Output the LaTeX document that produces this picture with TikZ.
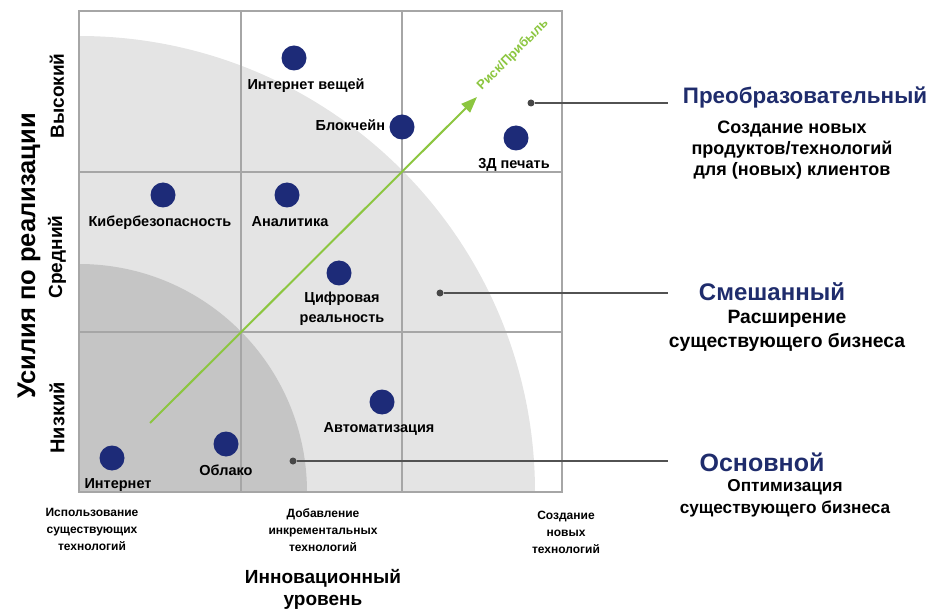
\documentclass[tikz,border=0pt]{standalone}
\usepackage{fontspec}
\setmainfont{Liberation Sans}
\usetikzlibrary{positioning,arrows.meta}

\definecolor{navy}{HTML}{1D2B78}
\definecolor{titleblue}{HTML}{1F2C6C}
\definecolor{leaf}{HTML}{8CC640}
\definecolor{zonelight}{HTML}{E4E4E4}
\definecolor{zonedark}{HTML}{C5C5C5}
\definecolor{gridgray}{HTML}{A6A6A6}

\tikzset{
  tech/.style={circle, fill=navy, minimum size=25pt, inner sep=0pt},
  techname/.style={font=\bfseries\fontsize{14.5}{20}\selectfont, inner sep=0pt,
    text height=10pt, text depth=2.5pt, align=center},
  level/.style={font=\bfseries\fontsize{12}{17}\selectfont, align=center, inner sep=0pt},
  axis/.style={font=\bfseries\fontsize{19}{22}\selectfont, align=center, inner sep=0pt},
  pin/.style={circle, fill=black!72, minimum size=7pt, inner sep=0pt},
  lead/.style={black!68, line width=1.5pt},
  kind/.style={font=\bfseries\fontsize{24}{28}\selectfont, text=titleblue, inner sep=0pt},
  kinddesc/.style={font=\bfseries\fontsize{18}{21}\selectfont, align=center, inner sep=0pt},
  grid line/.style={gridgray, line width=1.5pt}
}

\begin{document}
\begin{tikzpicture}[x=1pt, y=-1pt]
  \useasboundingbox (0,0) rectangle (931,609);

  % shaded zones around the lower left corner
  \begin{scope}
    \clip (79,11) rectangle (562,492);
    \fill[zonelight] (79,492) circle[radius=456];
    \fill[zonedark] (79,492) circle[radius=228];
  \end{scope}

  % 3x3 grid
  \draw[grid line] (79,11) rectangle (562,492);
  \foreach \x in {241,402}
    \draw[grid line] (\x,11) -- (\x,492);
  \foreach \y in {172,332}
    \draw[grid line] (79,\y) -- (562,\y);

  % risk / profit direction
  \coordinate (riskfrom) at (150,423);
  \coordinate (riskto) at (477,97);
  \draw[leaf, line width=2pt, -{Triangle[length=16pt, width=12pt]}] (riskfrom) -- (riskto);
  \node[rotate=45, text=leaf, font=\bfseries\fontsize{13}{15}\selectfont, inner sep=0pt]
    (risk) at (513,55) {Риск/Прибыль};

  % technologies
  \node[tech] (iot) at (294,58) {};
  \node[techname, below=8.5pt of iot, xshift=12pt] (iot-t) {Интернет вещей};
  \node[tech] (chain) at (402,127) {};
  \node[techname, left=4pt of chain] (chain-t) {Блокчейн};
  \node[tech] (print) at (516,138) {};
  \node[techname, below=7.5pt of print, xshift=-2pt] (print-t) {3Д печать};
  \node[tech] (cyber) at (163,195) {};
  \node[techname, below=8.5pt of cyber, xshift=-3pt] (cyber-t) {Кибербезопасность};
  \node[tech] (analytics) at (287,195) {};
  \node[techname, below=8.5pt of analytics, xshift=3pt] (analytics-t) {Аналитика};
  \node[tech] (digital) at (339,273) {};
  \node[techname, below=6.5pt of digital, xshift=3pt, text height=, text depth=] (digital-t) {Цифровая\\реальность};
  \node[tech] (auto) at (382,402) {};
  \node[techname, below=8pt of auto, xshift=-3pt] (auto-t) {Автоматизация};
  \node[tech] (cloud) at (226,444) {};
  \node[techname, below=8.5pt of cloud] (cloud-t) {Облако};
  \node[tech] (web) at (112,458) {};
  \node[techname, below=7.5pt of web, xshift=6pt] (web-t) {Интернет};

  % axes
  \node[axis, rotate=90, font=\bfseries\fontsize{25.5}{28}\selectfont] (effort) at (29,256) {Усилия по реализации};
  \node[axis, rotate=90] (high) at (57,96) {Высокий};
  \node[axis, rotate=90] (mid) at (57,257) {Средний};
  \node[axis, rotate=90, font=\bfseries\fontsize{20}{22}\selectfont] (low) at (57,418) {Низкий};
  \node[level] (existing) at (92,529) {Использование\\существующих\\технологий};
  \node[level] (incremental) at (323,530) {Добавление\\инкрементальных\\технологий};
  \node[level] (new) at (566,532) {Создание\\новых\\технологий};
  \node[axis] (innovation) at (323,589) {Инновационный\\уровень};

  % zone types on the right
  \coordinate (rim) at (668,0);
  \node[pin] (pin-a) at (531,103) {};
  \node[pin] (pin-b) at (440,293) {};
  \node[pin] (pin-c) at (293,461) {};
  \draw[lead] (pin-a) -- (pin-a -| rim);
  \draw[lead] (pin-b) -- (pin-b -| rim);
  \draw[lead] (pin-c) -- (pin-c -| rim);

  \node[kind, font=\bfseries\fontsize{22.4}{26}\selectfont] (transform) at (805,97) {Преобразовательный};
  \node[kinddesc] (transform-d) at (792,150) {Создание новых\\продуктов/технологий\\для (новых) клиентов};
  \node[kind] (mixed) at (772,292) {Смешанный};
  \node[kinddesc, font=\bfseries\fontsize{19.3}{24}\selectfont] (mixed-d) at (787,331) {Расширение\\существующего бизнеса};
  \node[kind, font=\bfseries\fontsize{25}{28}\selectfont] (core) at (762,462) {Основной};
  \node[kinddesc, font=\bfseries\fontsize{17.2}{22}\selectfont] (core-d) at (785,498) {Оптимизация\\существующего бизнеса};
\end{tikzpicture}
\end{document}
